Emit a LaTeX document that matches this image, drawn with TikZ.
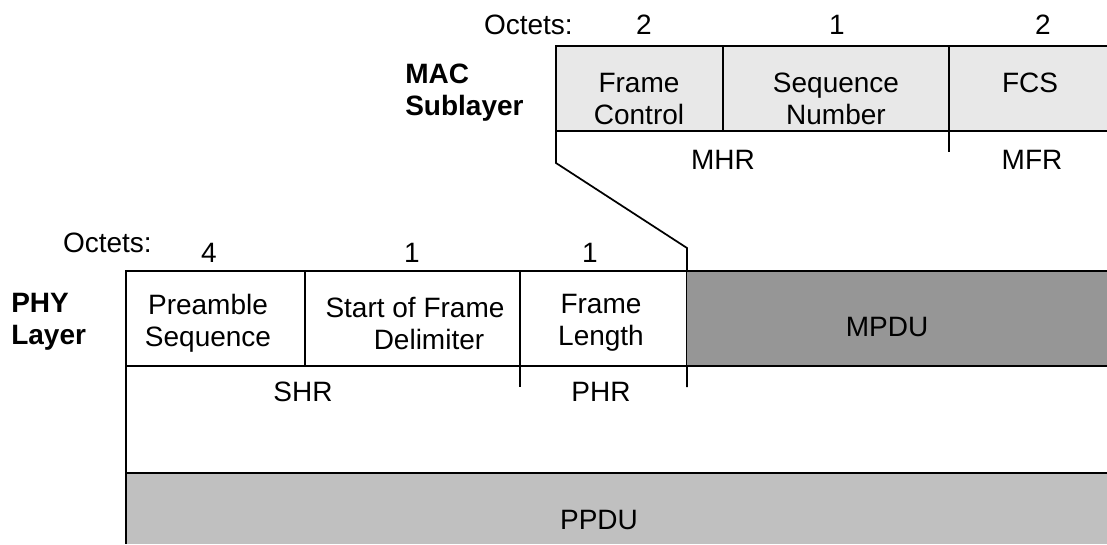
\documentclass[tikz,border=0pt]{standalone}
\usepackage{fontspec}
\setmainfont{Liberation Sans}
\usetikzlibrary{positioning}

\definecolor{macgray}{HTML}{E8E8E8}
\definecolor{mpdugray}{HTML}{969696}
\definecolor{ppdugray}{HTML}{C0C0C0}

\tikzset{
  txt/.style={font=\fontsize{21}{24}\selectfont, inner sep=0pt, align=center},
  layer/.style={font=\fontsize{21}{24}\selectfont\bfseries, inner sep=0pt, align=left, anchor=west},
  rule/.style={line width=1.3pt},
}

\begin{document}
\begin{tikzpicture}[x=0.75pt,y=-0.75pt]
            \useasboundingbox (0,0) rectangle (1107,544);

            % MAC sublayer frame
            \fill[macgray] (556,46) rectangle (1107,131);
            \draw[rule] (1107,46) -- (556,46) -- (556,163) coordinate (macfoot)
                -- (687,248) coordinate (phykink) -- (687,387) coordinate (phrend);
            \draw[rule] (556,131) -- (1107,131);
            \foreach \x in {723,949} {
                \draw[rule] (\x,46) -- (\x,131);
            }
            \draw[rule] (949,131) -- (949,152);

            \node[txt, anchor=east] (macoct) at (573,25) {Octets:};
            \foreach \x/\n/\name in {644/2/fc,837/1/sn,1043/2/fcs} {
                \node[txt] (oct\name) at (\x,25) {\n};
            }
            \node[layer] (mac) at (405,93) {MAC\\Sublayer};
            \node[txt] (framectl) at (639,99) {Frame\\Control};
            \node[txt] (seqnum) at (836,99) {Sequence\\Number};
            \node[txt] (fcs) at (1030,83) {FCS};
            \node[txt] (mhr) at (723,160) {MHR};
            \node[txt] (mfr) at (1032,160) {MFR};

            % PHY layer frame
            \fill[mpdugray] (687,271) rectangle (1107,366);
            \fill[ppdugray] (126,473) rectangle (1107,544);
            \draw[rule] (1107,271) -- (126,271) -- (126,544);
            \draw[rule] (126,366) -- (1107,366);
            \draw[rule] (126,473) -- (1107,473);
            \foreach \x in {305,520} {
                \draw[rule] (\x,271) -- (\x,366);
            }
            \draw[rule] (520,366) -- (520,387);

            \node[txt, anchor=east] (phyoct) at (152,243) {Octets:};
            \foreach \x/\n/\name in {209/4/pre,412/1/sfd,590/1/len} {
                \node[txt] (oct\name) at (\x,253) {\n};
            }
            \node[layer] (phy) at (11,322) {PHY\\Layer};
            \node[txt] (preamble) at (208,323) {Preamble\\Sequence};
            \node[txt] (sfd) at (415,323) {Start of Frame\\\hspace*{1em}Delimiter};
            \node[txt] (framelen) at (601,323) {Frame\\Length};
            \node[txt] (mpdu) at (887,327) {MPDU};
            \node[txt] (shr) at (303,392) {SHR};
            \node[txt] (phr) at (601,392) {PHR};
            \node[txt] (ppdu) at (599,520) {PPDU};
        \end{tikzpicture}
\end{document}
